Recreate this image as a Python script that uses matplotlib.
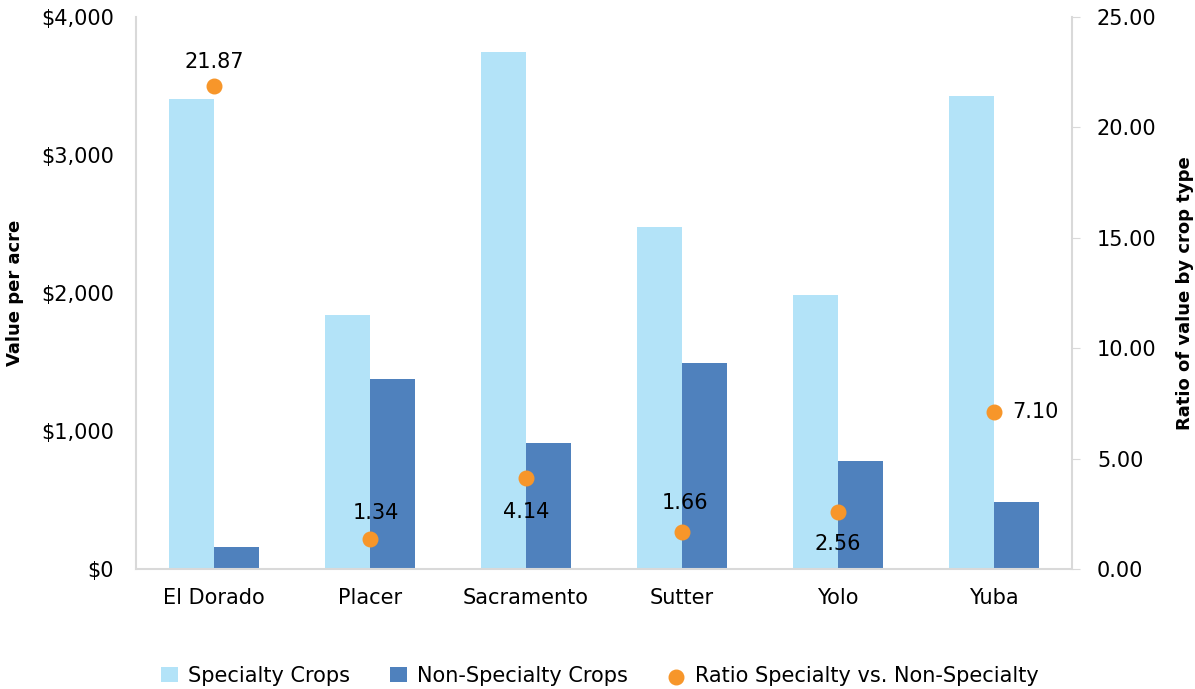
import matplotlib.pyplot as plt
import numpy as np
from matplotlib.ticker import FuncFormatter

counties = ["El Dorado", "Placer", "Sacramento", "Sutter", "Yolo", "Yuba"]
specialty = [3407, 1844, 3747, 2481, 1989, 3429]
non_specialty = [159, 1374, 911, 1490, 781, 485]
ratio = [21.87, 1.34, 4.14, 1.66, 2.56, 7.10]

# label offsets in points (dx, dy) for each ratio label
label_offsets = [(0, 17), (4, 19), (0, -25), (2, 21), (0, -23), (30, 0)]

light = "#B3E3F8"
dark = "#4F81BD"
orange = "#F7962A"
grey = "#D9D9D9"
fs = 15

plt.rcParams['font.family'] = ['DejaVu Sans']

fig = plt.figure(figsize=(11.95, 6.89), dpi=100)
ax = fig.add_axes([136 / 1195, 120 / 689, (1072 - 136) / 1195, (569 - 17) / 689])
ax2 = ax.twinx()

x = np.arange(len(counties))
w = 0.29
b1 = ax.bar(x - w / 2, specialty, w, color=light, label="Specialty Crops", zorder=2)
b2 = ax.bar(x + w / 2, non_specialty, w, color=dark, label="Non-Specialty Crops", zorder=2)

ax.set_xlim(-0.5, len(counties) - 0.5)
ax.set_ylim(0, 4000)
ax.set_yticks([0, 1000, 2000, 3000, 4000])
ax.yaxis.set_major_formatter(FuncFormatter(lambda v, p: f"${v:,.0f}"))
ax.set_xticks(x)
ax.set_xticklabels(counties, fontsize=fs)
ax.tick_params(axis='y', length=0, labelsize=fs, pad=16)
ax.tick_params(axis='x', length=0, pad=14)
ax.set_ylabel("Value per acre", fontsize=13, fontweight='bold')
ax.yaxis.set_label_coords(-0.1197, 0.5)

for side in ['top', 'right']:
    ax.spines[side].set_visible(False)
for side in ['left', 'bottom']:
    ax.spines[side].set_color(grey)
    ax.spines[side].set_linewidth(1.5)

pts = ax2.scatter(x, ratio, s=110, color=orange, zorder=3,
                  label="Ratio Specialty vs. Non-Specialty")
ax2.set_ylim(0, 25)
ax2.set_yticks([0, 5, 10, 15, 20, 25])
ax2.yaxis.set_major_formatter(FuncFormatter(lambda v, p: f"{v:.2f}"))
ax2.tick_params(axis='y', length=6, color=grey, labelsize=fs, pad=12)
ax2.set_ylabel("Ratio of value by crop type", fontsize=13, fontweight='bold')
ax2.yaxis.set_label_coords(1.111, 0.5)
for side in ['top', 'left', 'bottom']:
    ax2.spines[side].set_visible(False)
ax2.spines['right'].set_color(grey)
ax2.spines['right'].set_linewidth(1.5)

for xi, r, (dx, dy) in zip(x, ratio, label_offsets):
    ax2.annotate(f"{r:.2f}", (xi, r), xytext=(dx, dy), textcoords='offset points',
                 ha='center', va='center', fontsize=fs)

fig.legend(handles=[b1, b2, pts], loc='center', bbox_to_anchor=(0.502, 1 - 676 / 689),
           ncol=3, frameon=False, fontsize=fs, handlelength=0.8, handletextpad=0.5,
           columnspacing=1.9, markerscale=1.0)

fig.savefig("out.png", dpi=100)
